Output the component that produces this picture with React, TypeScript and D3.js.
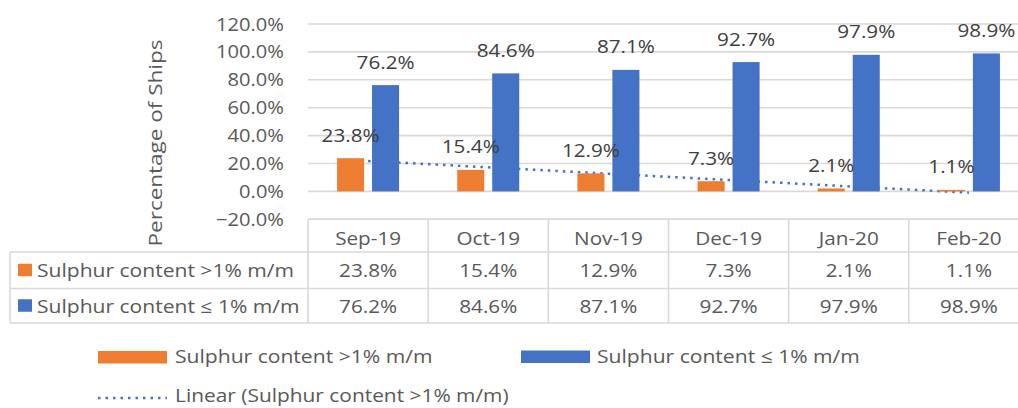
import React from "react";
import * as d3 from "d3";

const categories = ["Sep-19", "Oct-19", "Nov-19", "Dec-19", "Jan-20", "Feb-20"];
const highSulphur = [23.8, 15.4, 12.9, 7.3, 2.1, 1.1];
const lowSulphur = [76.2, 84.6, 87.1, 92.7, 97.9, 98.9];
const yTicks = [-20, 0, 20, 40, 60, 80, 100, 120];
const seriesNames = ["Sulphur content >1% m/m", "Sulphur content \u2264 1% m/m"];
const trendName = "Linear (Sulphur content >1% m/m)";
const yTitle = "Percentage of Ships";

const W = 1018;
const H = 408;
const ORANGE = "#ED7D31";
const BLUE = "#4472C4";
const GRID = "#D9D9D9";
const TEXT = "#595959";
const LABEL = "#404040";
const FONT = "'Open Sans', sans-serif";
const SX = 1.15; // horizontal stretch of chart text

type TxtProps = {
  x: number;
  y: number;
  anchor?: "start" | "middle" | "end";
  size?: number;
  fill?: string;
  sx?: number;
  rotate?: number;
  children: React.ReactNode;
};

function Txt({ x, y, anchor = "start", size = 18, fill = TEXT, sx = SX, rotate = 0, children }: TxtProps) {
  const t = rotate
    ? `translate(${x},${y}) rotate(${rotate}) scale(${sx},1)`
    : `translate(${x},${y}) scale(${sx},1)`;
  return (
    <text transform={t} textAnchor={anchor} fontSize={size} fill={fill} fontFamily={FONT}>
      {children}
    </text>
  );
}

export default function App() {
  const x = d3.scaleBand<string>().domain(categories).range([308, 1029]).paddingInner(0).paddingOuter(0);
  const y = d3.scaleLinear().domain([-20, 120]).range([219.3, 24]);
  const bw = x.bandwidth();
  const barW = bw * 0.225;
  const barGap = bw * 0.066;
  const groupW = barW * 2 + barGap;
  const barX = (cat: string, s: number) => (x(cat) as number) + (bw - groupW) / 2 + s * (barW + barGap);

  // least-squares trend of the high-sulphur series over category index 1..n
  const n = highSulphur.length;
  const idx = highSulphur.map((_, i) => i + 1);
  const mx = d3.mean(idx) as number;
  const my = d3.mean(highSulphur) as number;
  const sxy = d3.sum(idx.map((v, i) => (v - mx) * (highSulphur[i] - my)));
  const sxx = d3.sum(idx.map((v) => (v - mx) ** 2));
  const slope = sxy / sxx;
  const trendAt = (i: number) => my + slope * (i - mx);
  const cx = (cat: string) => (x(cat) as number) + bw / 2;
  const trendPts: [number, number][] = [
    [cx(categories[0]), y(trendAt(1))],
    [cx(categories[n - 1]), y(trendAt(n))],
  ];
  const trendPath = d3.line()(trendPts) as string;

  const tableTop = y(-20);
  const rowTops = [tableTop, 252, 288.5, 323];
  const tableLeft = 10;
  const xEnd = 1029;
  const series = [highSulphur, lowSulphur];
  const colors = [ORANGE, BLUE];

  return (
    <svg width={W} height={H} style={{ position: "absolute", left: 0, top: 0, background: "#fff" }}>
      <rect x={0} y={0} width={W} height={H} fill="#fff" />

      {/* gridlines */}
      {yTicks.map((t) => (
        <line key={t} x1={308} x2={W} y1={y(t)} y2={y(t)} stroke={GRID} strokeWidth={1.6} />
      ))}

      {/* y tick labels */}
      {yTicks.map((t) => (
        <Txt key={t} x={284} y={y(t) + 6.5} anchor="end" size={17.5}>
          {d3.format(".1f")(t) + "%"}
        </Txt>
      ))}

      <Txt x={162} y={143} anchor="middle" size={18} sx={1.25} rotate={-90}>
        {yTitle}
      </Txt>

      {/* trendline */}
      <path d={trendPath} fill="none" stroke={BLUE} strokeWidth={2.5} strokeDasharray="2.5 5" />

      {/* bars */}
      {series.map((vals, s) =>
        categories.map((c, i) => (
          <rect
            key={`${s}-${c}`}
            x={barX(c, s)}
            y={y(Math.max(0, vals[i]))}
            width={barW}
            height={Math.abs(y(vals[i]) - y(0))}
            fill={colors[s]}
          />
        ))
      )}

      {/* data labels */}
      {series.map((vals, s) =>
        categories.map((c, i) => (
          <Txt key={`l${s}-${c}`} x={barX(c, s) + barW / 2} y={y(vals[i]) - 16.5} anchor="middle" size={18} fill={LABEL}>
            {vals[i].toFixed(1) + "%"}
          </Txt>
        ))
      )}

      {/* data table */}
      <g stroke={GRID} strokeWidth={1.6}>
        <line x1={308} x2={W} y1={rowTops[0]} y2={rowTops[0]} />
        {rowTops.slice(1).map((r) => (
          <line key={r} x1={tableLeft} x2={W} y1={r} y2={r} />
        ))}
        <line x1={tableLeft} x2={tableLeft} y1={rowTops[1]} y2={rowTops[3]} />
        {categories.map((c) => (
          <line key={c} x1={x(c) as number} x2={x(c) as number} y1={rowTops[0]} y2={rowTops[3]} />
        ))}
        <line x1={xEnd} x2={xEnd} y1={rowTops[0]} y2={rowTops[3]} />
      </g>

      {categories.map((c) => (
        <Txt key={`h${c}`} x={cx(c)} y={245} anchor="middle" size={18}>
          {c}
        </Txt>
      ))}

      {series.map((vals, s) => {
        const top = rowTops[s + 1];
        const bot = rowTops[s + 2];
        const base = (top + bot) / 2 + 6.8;
        return (
          <g key={`row${s}`}>
            <rect x={18} y={(top + bot) / 2 - 6.5} width={14} height={12.5} fill={colors[s]} />
            <Txt x={37} y={base} size={18} sx={1.17}>
              {seriesNames[s]}
            </Txt>
            {categories.map((c, i) => (
              <Txt key={`t${s}-${c}`} x={cx(c)} y={base} anchor="middle" size={18}>
                {vals[i].toFixed(1) + "%"}
              </Txt>
            ))}
          </g>
        );
      })}

      {/* legend */}
      <rect x={98} y={351} width={69} height={12.5} fill={ORANGE} />
      <Txt x={175} y={363} size={19} sx={1.11}>
        {seriesNames[0]}
      </Txt>
      <rect x={521} y={350.5} width={69} height={12.5} fill={BLUE} />
      <Txt x={597} y={363} size={19} sx={1.11}>
        {seriesNames[1]}
      </Txt>
      <line x1={98} x2={167} y1={398} y2={398} stroke={BLUE} strokeWidth={2.5} strokeDasharray="2.5 5" />
      <Txt x={175} y={402} size={18.5} sx={1.13}>
        {trendName}
      </Txt>
    </svg>
  );
}
